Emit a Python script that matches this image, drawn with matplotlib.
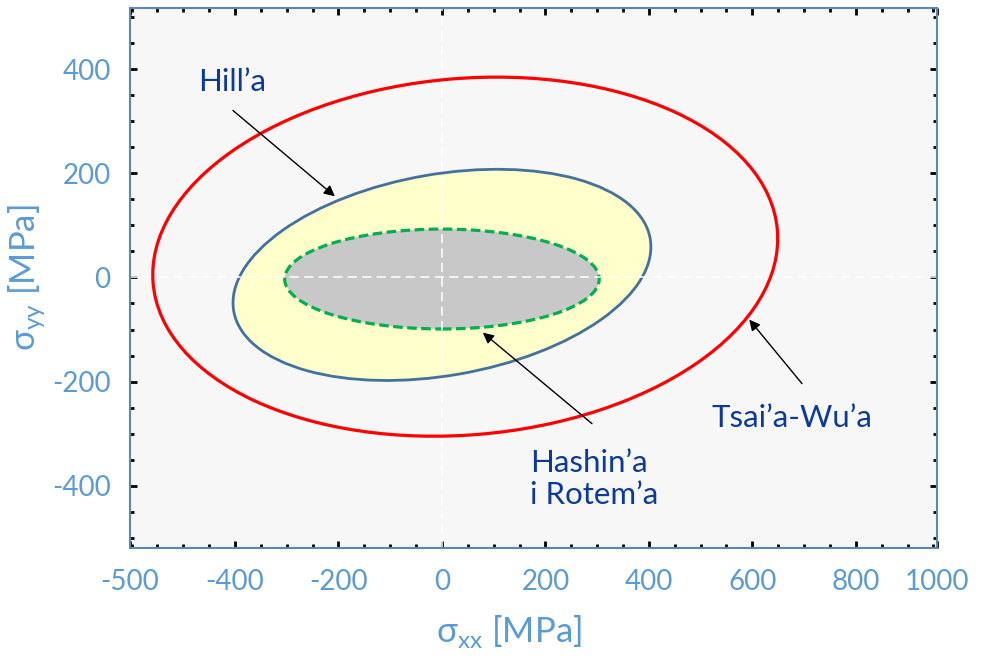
import matplotlib
matplotlib.use("Agg")
import matplotlib.pyplot as plt
from matplotlib.patches import Ellipse

"""
failure envelopes in the sigma_xx - sigma_yy plane (Tsai-Wu, Hill, Hashin-Rotem)
"""

# envelopes: centre (x, y), full width, full height, tilt [deg]  (MPa)
criteria = ["Tsai’a-Wu’a", "Hill’a", "Hashin’a\ni Rotem’a"]
centres = [(45, 40), (0, 5), (0, -3)]
widths = [1211, 817, 608]
heights = [685, 387, 192]
angles = [4.85, 9.8, 0.0]

# arrows: text position -> point on the curve
label_xy = [(676, -271), (-406, 375), (170, -387)]
tail_xy = [(696, -204), (-404, 321), (290, -281)]
tip_xy = [(594, -81), (-207, 156), (79, -106)]

x_limits = (-603, 957)
y_limits = (-520, 518)
x_ticks = [-400, -200, 0, 200, 400, 600, 800]
y_ticks = [-400, -200, 0, 200, 400]
x_edge_labels = ["-500", "1000"]

FONT = ["Lato", "Open Sans", "DejaVu Sans"]
TICK_BLUE = "#5B9BD5"
TEXT_BLUE = "#0B3A9B"


def envelopes():
    plt.rcParams["font.family"] = FONT
    plt.rcParams["mathtext.fontset"] = "custom"
    plt.rcParams["mathtext.rm"] = "Lato"
    plt.rcParams["axes.unicode_minus"] = False

    fig = plt.figure(figsize=(9.82, 6.59), dpi=100)
    ax = fig.add_axes([0.1324, 0.1684, 0.8218, 0.8195])
    ax.set_facecolor("#F7F7F7")

    styles = [
        dict(facecolor="none", edgecolor="#FF0000", lw=2.3, zorder=4),
        dict(facecolor="#FFFFCC", edgecolor="#41719C", lw=2.0, zorder=2),
        dict(facecolor="#C8C8C8", edgecolor="#00B050", lw=2.3, zorder=2.5,
             linestyle=(0, (3, 1.4))),
    ]
    for c, w, h, a, st in zip(centres, widths, heights, angles, styles):
        ax.add_patch(Ellipse(c, w, h, angle=a, **st))

    # white dashed axes through the origin
    ax.axhline(0, color="white", lw=1.1, dashes=(6, 3.5), zorder=3)
    ax.axvline(0, color="white", lw=1.1, dashes=(6, 3.5), zorder=3)

    for name, lxy, txy, pxy in zip(criteria, label_xy, tail_xy, tip_xy):
        ax.annotate("", xy=pxy, xytext=txy,
                    arrowprops=dict(arrowstyle="-|>", color="black", lw=1.0,
                                    mutation_scale=16, shrinkA=0, shrinkB=0),
                    zorder=5)
        ha = "left" if "\n" in name else "center"
        ax.text(lxy[0], lxy[1], name, ha=ha, va="center", fontsize=22.5,
                color=TEXT_BLUE, linespacing=1.2, multialignment="left",
                zorder=6)

    ax.set_xlim(*x_limits)
    ax.set_ylim(*y_limits)

    xt = [x_limits[0]] + x_ticks + [x_limits[1]]
    xl = [x_edge_labels[0]] + [str(v) for v in x_ticks] + [x_edge_labels[1]]
    ax.set_xticks(xt)
    ax.set_xticklabels(xl)
    ax.set_xticks(range(-600, 951, 50), minor=True)
    ax.set_yticks(y_ticks)
    ax.set_yticks(range(-500, 501, 50), minor=True)

    ax.tick_params(which="both", direction="in", top=True, right=True,
                   color="black", width=2)
    ax.tick_params(which="major", length=5)
    ax.tick_params(which="minor", length=3)
    ax.tick_params(axis="x", which="major", pad=15, labelsize=20,
                   labelcolor=TICK_BLUE)
    ax.tick_params(axis="y", which="major", pad=14, labelsize=20,
                   labelcolor=TICK_BLUE)

    for s in ax.spines.values():
        s.set_color("#5B87B5")
        s.set_linewidth(1.5)
        s.set_zorder(7)

    ax.set_xlabel(r"σ$_\mathregular{xx}$ [MPa]", fontsize=25, color=TICK_BLUE)
    ax.set_ylabel(r"σ$_\mathregular{yy}$ [MPa]", fontsize=25, color=TICK_BLUE)
    ax.xaxis.set_label_coords(0.47, -0.12)
    ax.yaxis.set_label_coords(-0.103, 0.5)

    fig.savefig("out.png", dpi=100, facecolor="white")


if __name__ == "__main__":
    envelopes()
